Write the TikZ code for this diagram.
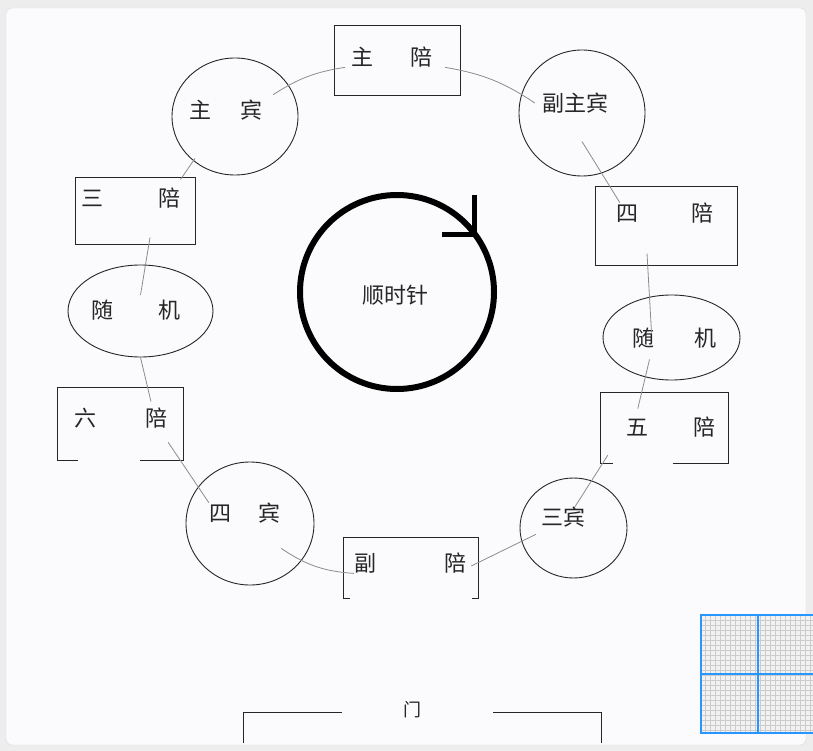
\documentclass[tikz,border=0pt]{standalone}
\usepackage{fontspec}
\setmainfont{Noto Sans CJK SC}
\usepackage{xcolor}
\usetikzlibrary{calc,positioning,shapes.geometric}
\definecolor{cardbg}{RGB}{251,251,253}
\definecolor{gridblue}{RGB}{40,150,255}
\tikzset{%
	seatbox/.style   = {draw=black!85, line width=1pt, rectangle, inner sep=0pt}, % closed seat
	seatopen/.style  = {rectangle, inner sep=0pt}, % seat with open bottom
	seatround/.style = {draw=black!85, line width=0.9pt, ellipse, inner sep=0pt}, % guest seat
	seattext/.style  = {inner sep=0pt, text=black!85, font=\fontsize{22pt}{24pt}\selectfont},
	link/.style      = {draw=black!45, line width=0.8pt}, % order line
	openline/.style  = {draw=black!85, line width=1pt},
	hook/.style      = {draw=black, line width=5pt},
}
\newcommand{\twochars}[3]{#1\hspace{#2}#3}

\begin{document}
\begin{tikzpicture}[x=1pt,y=-1pt]
	\useasboundingbox (0,0) rectangle (813,751);
	% card
	\fill[black!7] (0,0) rectangle (813,751);
	\filldraw[fill=cardbg, draw=black!15, rounded corners=6pt] (6,8) rectangle (806,745);

	% seats
	\node[seatbox, minimum width=126pt, minimum height=70pt] (zhupei) at (397,61) {};
	\node[seatround, minimum width=126pt, minimum height=117pt] (zhubin) at (235,116.5) {};
	\node[seatround, minimum width=126pt, minimum height=126pt] (fuzhubin) at (582,113) {};
	\node[seatbox, minimum width=120pt, minimum height=67pt] (sanpei) at (135,211.5) {};
	\node[seatbox, minimum width=142pt, minimum height=78pt] (sipei) at (666,226) {};
	\node[seatround, minimum width=145pt, minimum height=92pt] (suijiL) at (140.5,311) {};
	\node[seatround, minimum width=137pt, minimum height=85pt] (suijiR) at (671.5,337.5) {};
	\node[seatopen, minimum width=125pt, minimum height=72pt] (liupei) at (120.5,424) {};
	\node[seatopen, minimum width=127pt, minimum height=70pt] (wupei) at (664.5,428) {};
	\node[seatround, minimum width=128pt, minimum height=123pt] (sibin) at (250,523.5) {};
	\node[seatround, minimum width=107pt, minimum height=100pt] (sanbin) at (573.5,528) {};
	\node[seatopen, minimum width=134pt, minimum height=60pt] (fupei) at (411,568) {};

	\draw[openline] ([xshift=20pt]liupei.south west) -- (liupei.south west) -- (liupei.north west)
		-- (liupei.north east) -- (liupei.south east) -- ([xshift=-43pt]liupei.south east);
	\draw[openline] ([xshift=12pt]wupei.south west) -- (wupei.south west) -- (wupei.north west)
		-- (wupei.north east) -- (wupei.south east) -- ([xshift=-55pt]wupei.south east);
	\draw[openline] ([xshift=6pt]fupei.south west) -- (fupei.south west) -- (fupei.north west)
		-- (fupei.north east) -- (fupei.south east) -- ([xshift=-6pt]fupei.south east);

	% seat names
	\node[seattext] (zhupeit) at (392,57) {\twochars{主}{38pt}{陪}};
	\node[seattext] (zhubint) at (226,110) {\twochars{主}{30pt}{宾}};
	\node[seattext] (fuzhubint) at (575,103) {副主宾};
	\node[seattext] (sanpeit) at (131,198) {\twochars{三}{55pt}{陪}};
	\node[seattext] (sipeit) at (665,213) {\twochars{四}{54pt}{陪}};
	\node[seattext] (suijiLt) at (136,310) {\twochars{随}{45pt}{机}};
	\node[seattext] (suijiRt) at (674,338) {\twochars{随}{40pt}{机}};
	\node[seattext] (liupeit) at (121,418) {\twochars{六}{50pt}{陪}};
	\node[seattext] (wupeit) at (671,427) {\twochars{五}{46pt}{陪}};
	\node[seattext] (sibint) at (245,513) {\twochars{四}{28pt}{宾}};
	\node[seattext] (sanbint) at (563,517) {三宾};
	\node[seattext] (fupeit) at (410,563) {\twochars{副}{68pt}{陪}};

	% order of seats
	\draw[link] ([xshift=10pt,yshift=5pt]zhubint.north east) to[bend left=12] ([xshift=-6pt]zhupeit.south west);
	\draw[link] ([xshift=12pt]zhupeit.south east) to[bend left=12] ([xshift=-7pt]fuzhubint.west);
	\draw[link] ($(fuzhubin.center)!0.45!(fuzhubin.south)$) -- ([xshift=4pt]sipeit.north west);
	\draw[link] ([xshift=-10pt,yshift=10pt]zhubin.-120) -- ([xshift=-15pt,yshift=-2pt]sanpei.north east);
	\draw[link] ([xshift=15pt,yshift=8pt]sanpei.south) -- ([yshift=16pt]suijiL.center);
	\draw[link] (suijiL.south) -- ([xshift=30pt,yshift=6pt]liupeit.north);
	\draw[link] ([yshift=-14pt]liupeit.south east) -- (sibint.north west);
	\draw[link] ([yshift=-25pt]sibint.south east) to[bend right=15] (fupeit.south west);
	\draw[link] ([xshift=5pt,yshift=-3pt]fupeit.east) -- ([xshift=-5pt,yshift=-7pt]sanbint.south west);
	\draw[link] ([xshift=12pt]sanbint.north) -- ([xshift=7pt,yshift=8pt]wupei.south west);
	\draw[link] ([xshift=-19pt,yshift=12pt]sipei.south) -- ([xshift=-20pt,yshift=5pt]suijiR.center);
	\draw[link] ([xshift=-22pt,yshift=-22pt]suijiR.center) -- ([xshift=12pt,yshift=8pt]wupeit.north west);

	% clockwise sign
	\node[draw=black, circle, line width=6pt, minimum size=194pt, inner sep=0pt] (clock) at (397,292) {};
	\node[seattext] (clockt) at (395,295) {顺时针};
	\draw[hook] ([xshift=77pt,yshift=97pt]clock.center) -- ([xshift=77pt,yshift=57pt]clock.center)
		-- ([xshift=45pt,yshift=57pt]clock.center);

	% door
	\node[seattext, font=\fontsize{18pt}{20pt}\selectfont] (door) at (412,710) {门};
	\draw[openline, line width=0.8pt] (243,743) -- (243,712) -- (342,712);
	\draw[openline, line width=0.8pt] (493,712) -- (601,712) -- (601,743);

	% grid icon
	\fill[black!5] (701,615) rectangle (813,733);
	\draw[black!20, line width=0.3pt, step=5pt] (701,615) grid (813,733);
	\draw[gridblue, line width=1.6pt] (813,615) -- (701,615) -- (701,733) -- (813,733);
	\draw[gridblue, line width=1.2pt] (758,615) -- (758,733) (701,674) -- (813,674);
\end{tikzpicture}
\end{document}
